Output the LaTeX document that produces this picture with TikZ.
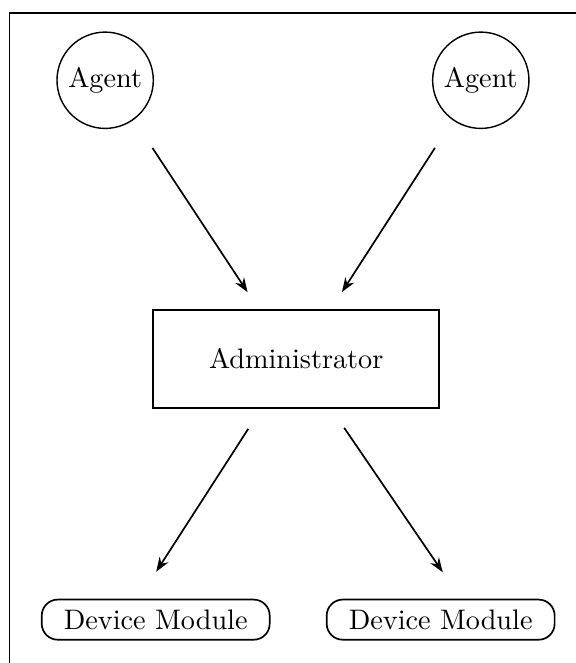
\documentclass[tikz,border=0pt]{standalone}
\usepackage{tikz}
\usetikzlibrary{arrows.meta, calc}

\begin{document}
\begin{tikzpicture}[
    agent/.style={draw, circle, minimum size=1.2cm, inner sep=0pt, line width=0.5pt},
    adminbox/.style={draw, rectangle, minimum width=3.56cm, minimum height=1.22cm, line width=0.6pt},
    module/.style={draw, rectangle, rounded corners=0.2cm, minimum width=2.84cm, minimum height=0.5cm, inner sep=0pt, line width=0.6pt},
    link/.style={-{Stealth[length=1.8mm, width=1.3mm]}, line width=0.6pt}
]
\useasboundingbox (0,0) rectangle (7.17,8.26);
% Frame
\draw[line width=0.5pt] (0.12,0) -- (0.12,8.10) -- (7.17,8.10);

% Agents
\node[agent] (agentL) at (1.31,7.26) {Agent};
\node[agent] (agentR) at (5.99,7.26) {Agent};

% Administrator
\node[adminbox] (admin) at (3.69,3.79) {Administrator};

% Device modules
\node[module] (devL) at (1.94,0.54) {Device Module};
\node[module] (devR) at (5.49,0.54) {Device Module};

% Arrows
\draw[link, shorten <=0.42cm, shorten >=0.25cm] (agentL.-54) -- (admin.127);
\draw[link, shorten <=0.41cm, shorten >=0.25cm] (agentR.-125) -- (admin.55);
\draw[link, shorten <=0.30cm, shorten >=0.40cm] (admin.-125) -- (devL.129);
\draw[link, shorten <=0.29cm, shorten >=0.40cm] (admin.-55) -- (devR.46);
\end{tikzpicture}
\end{document}
